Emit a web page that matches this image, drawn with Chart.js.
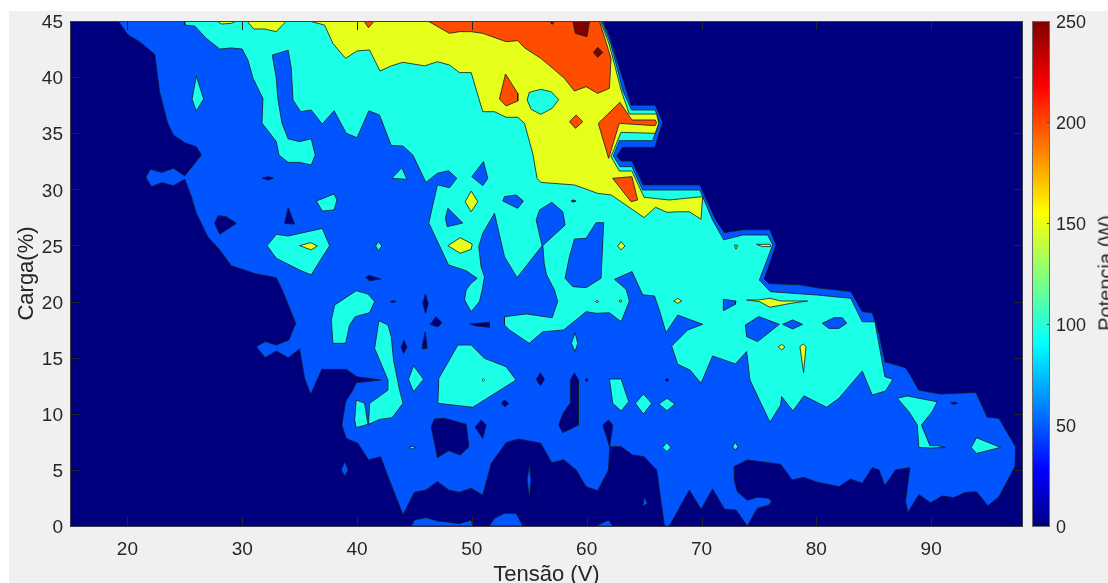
<!DOCTYPE html>
<html>
<head>
<meta charset="utf-8">
<title>Potencia</title>
<script src="https://cdn.jsdelivr.net/npm/chart.js@4/dist/chart.umd.min.js"></script>
<style>
  html, body { margin: 0; background: #fff; overflow: hidden; width: 1108px; height: 583px; }
  #fig { position: absolute; left: 9px; top: 11px; right: 0; bottom: 0; background: #f0f0f0; }
  canvas { position: absolute; top: 0; }
  #main { left: 0; }
  #bar { left: 1025px; }
  #barLabel {
    position: absolute; left: 1106px; top: 273px; white-space: nowrap; color: #262626;
    font: 20px "Liberation Sans", Arial, sans-serif;
    transform: translate(-50%, -50%) rotate(-90deg);
  }
</style>
</head>
<body>
<div id="fig"></div>
<canvas id="main" width="1108" height="583"></canvas>
<canvas id="bar" width="83" height="583"></canvas>
<div id="barLabel">Potencia (W)</div>
<script>
// tick labels
const xTicks = [20, 30, 40, 50, 60, 70, 80, 90];
const yTicks = [0, 5, 10, 15, 20, 25, 30, 35, 40, 45];
const barTicks = [0, 50, 100, 150, 200, 250];

// contour levels, each region is [tensao, carga]
const below50 = [[[15,0],[98,0],[98,45],[15,45]]];

const above50 = [
  [[19.2,45],[20.06,43.75],[21.07,43.15],[22.38,42.03],[22.8,38.7],[23.5,35.9],[24,34.85],[25,34.15],[26,33.8],[26.44,33.06],[25,31.2],[24,31.87],[23,31.5],[22,31.8],[21.6,31.07],[22.09,30.24],[23,30.6],[24,30.33],[25,30.9],[25.57,29.35],[26,27.86],[27,25.78],[28.04,24.6],[29.05,23.2],[31.08,22.5],[32.97,22.13],[33.55,20.88],[34.65,18.06],[34.07,16.58],[32.97,16.13],[32,16.43],[31.23,15.98],[32,15],[32.97,15.6],[34,15],[35,15.77],[35.43,13.16],[35.96,11.73],[36.94,13.96],[39.06,13.96],[39.99,13.3],[42.05,13],[39.93,12.77],[39.64,12.12],[39,11.08],[38.68,9],[39.06,7.8],[40.07,7.37],[41,5.88],[42.05,6.18],[42.7,4.4],[44,1],[45,3],[46,3.2],[47,3.95],[48,3.2],[48.9,3],[49.94,3.36],[50.95,2.76],[51.7,5.6],[53,7.45],[54.06,7.75],[56,7.37],[56.96,5.64],[58,5.9],[59.08,5],[59.95,3.5],[60.96,3.15],[61.9,5],[62,7.07],[63,7.07],[64,6.33],[65,6.18],[66.1,5],[66.77,0],[67.2,0],[68.94,3.2],[69.96,1.5],[70.97,3.3],[72,1.5],[73,1.43],[74,0],[74.86,1.58],[75.88,1.87],[76.1,2.17],[75.88,2.47],[74.86,2.56],[74,2.3],[73.12,3.06],[72.85,4.1],[72.85,5.3],[73.12,5.44],[74,5.88],[76.89,5.5],[77.9,4.1],[78.92,4.34],[79.94,3.95],[81.97,3.5],[82.98,4.19],[84,3.8],[84.87,5.2],[85.45,5],[85.97,3.6],[86.9,5],[88.15,5.2],[87.77,2.2],[87.97,1.2],[88.93,2.8],[89.95,2.08],[90.96,2.67],[91.98,2.53],[93,3],[93.95,3.06],[94.94,1.8],[95.9,2.6],[97.3,5.3],[97.35,7.07],[95.9,9.6],[94.88,9.7],[93.9,11.9],[90.82,11.76],[88.93,12.1],[88.1,13.6],[87.77,14.1],[85.97,14.64],[85.45,17.17],[84.87,19],[84,19.1],[83,20.9],[80.26,21.2],[78.5,21.5],[75.9,21.6],[75.47,22],[76.49,25.04],[75.96,26.4],[73.6,26.4],[72,26.14],[71.25,27.27],[69.86,30.39],[64.93,30.39],[63.94,32.52],[62.99,32.52],[62.61,32.97],[63.13,33.74],[65.94,33.74],[66.61,35.97],[65.97,37.5],[63.86,37.5],[63.1,40],[62,43.6],[61.4,45]],
  [[44.72,0],[45,0.53],[46,0.75],[47,0.45],[48.05,0.33],[48.9,0.2],[49.94,0.53],[50.08,0]],
  [[51.53,0],[51.97,0.68],[52.84,1.13],[53.85,1.13],[54.44,0]],
  [[60.8,0],[61.9,0.53],[62.27,0]],
  [[65,2.6],[65.3,2],[64.9,1.75]],
  [[55,5.44],[55.16,4.1],[55,2.47],[54.81,4.1]],
  [[38.92,5.73],[39.23,5],[38.92,4.46],[38.63,5]]
];

const navyHoles = [
  [[31.72,31],[32.24,31.13],[32.74,31],[32.24,30.83]],
  [[34,28.37],[34.56,26.9],[33.7,26.97]],
  [[27.9,27.65],[28.6,27.56],[29.5,26.97],[28.04,26],[27.6,26.97]],
  [[40.74,22.16],[41.09,22.33],[42.05,22],[41.09,21.86]],
  [[42.89,20],[43.18,20.08],[43.41,20],[43.1,19.9]],
  [[45.94,20.67],[46.2,19.84],[45.97,18.95],[45.73,19.84]],
  [[46.89,18.65],[47.39,18.12],[47.04,17.73],[46.37,17.97]],
  [[45.94,17.3],[46.11,15.83],[45.73,15.77],[45.7,16.13]],
  [[44.08,16.57],[44.34,15.92],[44.05,15.38],[43.85,15.92]],
  [[49.8,18],[51.53,18.15],[51.53,17.7],[50.4,17.82]],
  [[46.75,9.54],[47.6,9.6],[49.5,9.06],[49.74,7.07],[49,6.33],[47.97,6.7],[47,6.09],[46.46,8.85]],
  [[50.8,9.45],[51.25,9],[50.95,7.8],[50.29,8.8]],
  [[55.97,13.66],[56.32,13.07],[55.97,12.48],[55.6,13.07]],
  [[58.93,13.66],[59.28,13],[59.28,9],[57.92,8.32],[57.57,9],[57.92,10],[58.55,10.93],[58.58,13]],
  [[52.84,11.23],[53.19,10.93],[52.9,10.6],[52.58,10.93]],
  [[61.4,9],[61.9,9.45],[62.27,9],[62,7.07]],
  [[60,13.15],[60.12,13],[60,12.85],[59.88,13]],
  [[67,13.15],[67.15,13],[67,12.85],[66.85,13]]
];

const above100 = [
  [[24.93,45],[25,44.64],[25.86,44.55],[26.88,43.45],[28.04,42.5],[29.05,42.6],[30,42.5],[30.5,41.5],[30.94,39.9],[31.8,38.1],[31.72,35.9],[32.97,34.25],[33.2,33.06],[34,32.4],[35,32.4],[36.01,32.17],[36.36,33.06],[36.01,34.5],[35,34.25],[34,34.5],[33.46,35.9],[33.1,38.1],[32.97,39.9],[32.62,41.97],[34,42.4],[34.27,40.8],[34.42,37.96],[35.09,36.92],[36,37.07],[36.97,35.82],[38,37],[39.06,35],[40,34.6],[41.03,37],[41.96,36.62],[42.98,33.9],[44,33.86],[44.86,33.06],[46,30.62],[47,31.43],[47.97,31.66],[48.69,30.98],[48.05,30.15],[47,30.4],[46.25,27],[47.97,23.26],[49.5,22.75],[50.46,22.07],[49.9,21.6],[49.5,21.03],[49.36,20.14],[49.94,19.1],[50.66,20],[50.9,21.03],[51.1,22.2],[50.8,23.1],[50.6,24.9],[50.95,26.08],[51.97,27.86],[52.84,24],[53.94,22.13],[55.6,24.3],[56.12,24.95],[55.6,27.27],[55.9,28.16],[56.96,28.84],[57.92,28],[58.12,26.82],[56.18,25],[56.3,23.4],[56.5,22.4],[57.19,21.03],[57.48,20],[56.99,18.56],[54.72,18.9],[52.84,18.65],[52.84,17.9],[53.27,17.47],[55,16.28],[56.18,17.3],[58,17.47],[59.95,19.1],[60.82,18.95],[61.98,19],[63,18.2],[63.72,20.05],[63.43,21.09],[62.42,21.98],[63.95,22.67],[64.88,20.6],[65.9,20.5],[66.33,19.25],[66.91,17.23],[67.93,18.8],[70.1,17.97],[68.8,17.47],[67.4,16.04],[67.93,14.41],[69,13.9],[69.96,12.72],[70.97,15.15],[72.95,14.44],[73.93,15.54],[74.22,13],[75.96,9.24],[76.89,10.78],[76.98,11.53],[77.96,10.25],[78.92,11.6],[80.9,10.58],[81.97,11.38],[84,13.81],[84.87,11.67],[86.03,12.03],[86.67,13.07],[85.97,13.31],[85.1,18.2],[84,18.2],[83,20.29],[80.08,20.58],[76,20.88],[75.04,21.92],[76.2,25.04],[75.76,25.93],[73.6,25.93],[71.93,25.5],[70.96,27.27],[69.86,29.94],[64.87,29.94],[63.94,32.02],[62.9,32.02],[62.32,32.97],[62.84,34.34],[65.74,34.34],[66.32,35.97],[65.97,37.07],[63.9,37.07],[63.13,38.85],[62.85,40.04],[62.12,42.86],[61.31,45]],
  [[26,40.1],[26.64,38.05],[26,36.98],[25.63,38.05]],
  [[36.45,28.96],[38,29.58],[38.25,29.05],[38,28.16],[36.97,28.07]],
  [[32.97,25.99],[34,25.84],[36.97,26.52],[37.61,24.98],[36,22.37],[35,22.81],[32.97,23.85],[32.16,24.98]],
  [[38.05,19.69],[39.93,20.97],[40.95,20.67],[41.53,20],[41.09,19],[39.84,18.65],[39.35,17.91],[39,16.28],[37.9,16.28],[37.76,18.35]],
  [[41.9,18.3],[42.69,17.91],[42.98,16.87],[43.18,14.79],[43.7,12.12],[44,10.93],[43.06,9.65],[41.96,9.5],[41,9.06],[41.09,10.93],[42.1,11.67],[42.69,12.12],[42.69,13],[41.53,15.83]],
  [[39.93,11.23],[40.66,10.93],[40.95,9.06],[39.93,8.76],[39.79,9.45]],
  [[44.92,14.29],[45.79,13.07],[44.92,11.97],[44.48,13.07]],
  [[48.78,16.13],[49.94,16.13],[51.1,14.94],[52.98,14.2],[53.85,13],[50.08,10.58],[47.04,10.93],[47.12,13.16]],
  [[58.99,17.23],[59.22,16.28],[58.99,15.54],[58.67,16.28]],
  [[61.98,13.1],[63,13.1],[63.66,11.08],[63,10.25],[62.27,10.93]],
  [[64.94,11.76],[65.66,10.93],[64.94,9.98],[64.24,10.93]],
  [[67,11.38],[67.69,10.87],[67,10.28],[66.27,10.87]],
  [[66.97,7.43],[67.34,7],[66.97,6.63],[66.62,7]],
  [[72.94,7.46],[73.18,7.07],[72.94,6.77],[72.71,7.07]],
  [[41.87,25.34],[42.16,24.95],[41.87,24.53],[41.61,24.95]],
  [[43.9,31.93],[44.34,30.89],[43.03,30.98]],
  [[87.05,11.38],[87.92,11.59],[88.93,11.38],[90.53,11.08],[90.09,10.19],[89.16,9],[89.89,7.16],[90.53,7.16],[91.25,7],[89.95,6.95],[88.93,7],[88.79,9],[88.06,10.19]],
  [[93.95,7.87],[96.04,7],[93.95,6.47],[93.49,7]],
  [[44.51,7],[44.8,7.1],[45.1,7],[44.8,6.86]]
];

const blueHoles = [
  [[51.01,32.47],[51.39,30.98],[50.95,30.33],[50,31.13]],
  [[52.84,29.35],[53.85,29.5],[54.49,28.96],[54,28.31],[52.69,28.96]],
  [[47.91,28.31],[49.21,27],[47.85,26.67],[47.7,27.42]],
  [[58.93,25.57],[59.95,25.63],[60.82,27.03],[61.48,27.03],[61.25,22.07],[59.95,21.24],[58.79,21.33],[58.12,22.07],[58.5,24]],
  [[71.9,20.2],[73,20.05],[72.95,19.76],[71.93,19.2]],
  [[74.98,18.66],[76.78,17.97],[74.89,16.43],[73.93,16.87],[73.82,17.91]],
  [[77.07,17.97],[77.94,18.36],[78.81,17.97],[77.94,17.56]],
  [[80.52,18.06],[81.53,18.56],[82.26,18.56],[82.64,18.06],[81.97,17.61],[81.1,17.61]]
];

const navySpots = [
  [[58.64,28.96],[58.84,29.06],[59.08,28.96],[58.84,28.86]],
  [[91.7,10.95],[92,11.05],[92.3,10.95],[92,10.85]]
];

const above150 = [
  [[27.83,45],[28.18,44.73],[29.05,44.79],[29.49,45]],
  [[30.42,45],[31,44.29],[31.95,44.29],[32.97,44.05],[33.84,45]],
  [[35.81,45],[37.17,44.64],[37.9,43],[39,41.67],[40,42.33],[41.09,42.42],[42,40.54],[42.98,41],[44,41.32],[45.88,41],[47,41.37],[48.05,41.08],[48.92,40.4],[49.94,40.4],[50.95,36.92],[51.97,36.92],[52.98,36.42],[54,36.42],[54.58,35.88],[55.3,33.2],[55.68,30.98],[56,30.62],[58.93,30.39],[60.96,29.64],[62.12,29.5],[62.99,28.9],[65,27.48],[66,28.4],[67,27.95],[67.92,28],[68.94,28],[69.96,27.33],[70.1,29.35],[67.2,29.05],[65,29.29],[63.94,31.63],[62.84,31.63],[62.12,32.91],[62.99,35.08],[65.97,34.99],[66.27,35.88],[66.09,36.71],[63.71,36.71],[62.99,38.85],[62.7,40.04],[61.98,42.86],[61.2,45]],
  [[35,24.98],[35.96,25.25],[36.54,24.95],[36.01,24.6]],
  [[49.94,29.85],[50.52,28.9],[49.94,28],[49.42,28.9]],
  [[48.98,25.69],[50.03,25.13],[49.94,24.65],[48.98,24.3],[47.91,24.98]],
  [[62.99,25.34],[63.34,24.95],[62.99,24.6],[62.7,24.95]],
  [[72.86,25.04],[73.15,25],[73,24.66]],
  [[74.8,25.1],[75.96,25.1],[76.05,24.9],[75.3,24.9]],
  [[73.93,20.14],[74.89,20.14],[75.96,20.29],[76.92,20.05],[79.24,20.05],[77.79,19.84],[75.96,19.49],[75.03,20]],
  [[67.93,20.29],[68.28,20.05],[67.93,19.84],[67.58,20.05]],
  [[76.98,16.19],[77.27,15.95],[76.98,15.69],[76.69,15.95]],
  [[78.86,16.22],[79.1,15.98],[78.89,13.67],[78.57,15.98]],
  [[60.9,20.1],[61.05,20],[60.9,19.9],[60.75,20]],
  [[62.94,20.15],[63.08,20.05],[62.94,19.95],[62.8,20.05]],
  [[51,13.12],[51.12,13],[51,12.88],[50.88,13]]
];

const cyanHoles = [
  [[55,38.64],[56,38.91],[56.9,38.7],[57.57,38],[56.99,37.22],[56,36.68],[55.16,37.13],[54.81,37.96]]
];

const above200 = [
  [[46.17,45],[47.04,44.49],[48.05,43.9],[48.92,44.05],[49.94,44.05],[50.95,43.9],[52.98,43.16],[54,43.25],[54.58,42.62],[56,41.67],[57.05,40.78],[58.06,39.89],[58.93,38.76],[59.95,39.15],[60.96,38.55],[61.98,39],[62.12,41.67],[61.11,45]],
  [[40.6,45],[41,44.4],[41.5,45]],
  [[52.93,40.28],[54,38.55],[54,37.87],[52.98,37.43],[52.4,38.05]],
  [[59.08,36.62],[59.66,36.03],[59.02,35.44],[58.5,36.03]],
  [[62.9,37.75],[63.94,36.18],[65.97,36.18],[66.09,35.94],[65.97,35.67],[62.84,35.88],[61.91,32.76],[61.01,35.88]],
  [[62.26,30.98],[63.94,31.13],[64.44,29.05],[63.86,28.9]]
];

const above250 = [
  [[58.79,45],[60.24,45],[60.03,43.6],[59.02,43.9]],
  [[60.96,42.65],[61.4,42.2],[60.96,41.76],[60.58,42.2]],
  [[56.76,45],[57.19,45],[57,44.7]]
];

// paint order, bottom first
const layers = [
  [below50, '#00007f'],
  [above50, '#0055ff'],
  [navyHoles, '#00007f'],
  [above100, '#1affe6'],
  [blueHoles, '#0055ff'],
  [navySpots, '#00007f'],
  [above150, '#e6ff1a'],
  [cyanHoles, '#1affe6'],
  [above200, '#ff4d00'],
  [above250, '#7f0000']
];

const jetStops = [[0, '#00007f'], [0.11, '#0000ff'], [0.36, '#00ffff'], [0.62, '#ffff00'], [0.87, '#ff0000'], [1, '#7f0000']];

const textColor = '#262626';
const fontName = '"Liberation Sans", Arial, sans-serif';

const datasets = [];
layers.forEach(([regions, color]) => {
  regions.forEach(poly => {
    datasets.push({
      data: [...poly, poly[0]].map(([x, y]) => ({ x, y })),
      showLine: true,
      fill: 'shape',
      backgroundColor: color,
      borderColor: regions === below50 ? color : '#10182a',
      borderWidth: 0.8,
      pointRadius: 0,
      tension: 0
    });
  });
});
// lower order is drawn later
datasets.forEach((d, i) => { d.order = datasets.length - i; });

// matlab style box with the ticks pointing inwards
const insideTicks = {
  id: 'insideTicks',
  afterDatasetsDraw(chart, args, opts) {
    const { ctx, chartArea: a, scales } = chart;
    ctx.save();
    ctx.strokeStyle = opts.color;
    ctx.lineWidth = 1;
    ctx.beginPath();
    if (opts.xLength) {
      scales.x.ticks.forEach(t => {
        const px = Math.round(scales.x.getPixelForValue(t.value)) + 0.5;
        ctx.moveTo(px, a.bottom); ctx.lineTo(px, a.bottom - opts.xLength);
        ctx.moveTo(px, a.top); ctx.lineTo(px, a.top + opts.xLength);
      });
    }
    scales.y.ticks.forEach(t => {
      const py = Math.round(scales.y.getPixelForValue(t.value)) + 0.5;
      if (opts.bothSides) { ctx.moveTo(a.left, py); ctx.lineTo(a.left + opts.yLength, py); }
      ctx.moveTo(a.right, py); ctx.lineTo(a.right - opts.yLength, py);
    });
    ctx.stroke();
    ctx.strokeStyle = opts.boxColor;
    ctx.strokeRect(a.left + 0.5, a.top + 0.5, a.right - a.left - 1, a.bottom - a.top);
    ctx.restore();
  }
};

new Chart(document.getElementById('main'), {
  type: 'scatter',
  data: { datasets },
  plugins: [insideTicks],
  options: {
    responsive: false,
    animation: false,
    events: [],
    layout: { padding: { left: 0, top: 21, right: 85, bottom: 0 } },
    plugins: {
      legend: { display: false },
      tooltip: { enabled: false },
      insideTicks: { color: '#262626', boxColor: '#3a3a4a', xLength: 9, yLength: 9, bothSides: true }
    },
    scales: {
      x: {
        type: 'linear', min: 15, max: 98,
        afterBuildTicks: s => { s.ticks = xTicks.map(value => ({ value })); },
        afterFit: s => { s.height = 57; },
        grid: { display: false, drawTicks: false },
        border: { display: false },
        ticks: { color: textColor, padding: 12, maxRotation: 0, autoSkip: false, font: { family: fontName, size: 19 } },
        title: { display: true, text: 'Tensão (V)', color: textColor, padding: { top: 0, bottom: -5 }, font: { family: fontName, size: 22 } }
      },
      y: {
        type: 'linear', min: 0, max: 45,
        afterBuildTicks: s => { s.ticks = yTicks.map(value => ({ value })); },
        afterFit: s => { s.width = 70; },
        grid: { display: false, drawTicks: false },
        border: { display: false },
        ticks: { color: textColor, padding: 7, labelOffset: 2, autoSkip: false, font: { family: fontName, size: 19 } },
        title: { display: true, text: 'Carga(%)', color: textColor, padding: { top: 14, bottom: 0 }, font: { family: fontName, size: 22 } }
      }
    }
  }
});

// colour bar: one floating bar from 0 to 250 painted with the jet map
new Chart(document.getElementById('bar'), {
  type: 'bar',
  data: {
    labels: ['Potencia (W)'],
    datasets: [{
      data: [[barTicks[0], barTicks[barTicks.length - 1]]],
      barPercentage: 1,
      categoryPercentage: 1,
      backgroundColor: c => {
        const a = c.chart.chartArea;
        if (!a) return '#000';
        const g = c.chart.ctx.createLinearGradient(0, a.bottom, 0, a.top);
        jetStops.forEach(([at, col]) => g.addColorStop(at, col));
        return g;
      }
    }]
  },
  plugins: [insideTicks],
  options: {
    responsive: false,
    animation: false,
    events: [],
    layout: { padding: { left: 7, top: 21, right: 0, bottom: 57 } },
    plugins: {
      legend: { display: false },
      tooltip: { enabled: false },
      insideTicks: { color: '#404040', boxColor: '#6a6a6a', xLength: 0, yLength: 3, bothSides: false }
    },
    scales: {
      x: { display: false },
      y: {
        position: 'right',
        min: 0, max: 250,
        afterBuildTicks: s => { s.ticks = barTicks.map(value => ({ value })); },
        afterFit: s => { s.width = 58; },
        grid: { display: false, drawTicks: false },
        border: { display: false },
        ticks: { color: textColor, padding: 6, labelOffset: 2, autoSkip: false, font: { family: fontName, size: 18 } }
      }
    }
  }
});
</script>
</body>
</html>
